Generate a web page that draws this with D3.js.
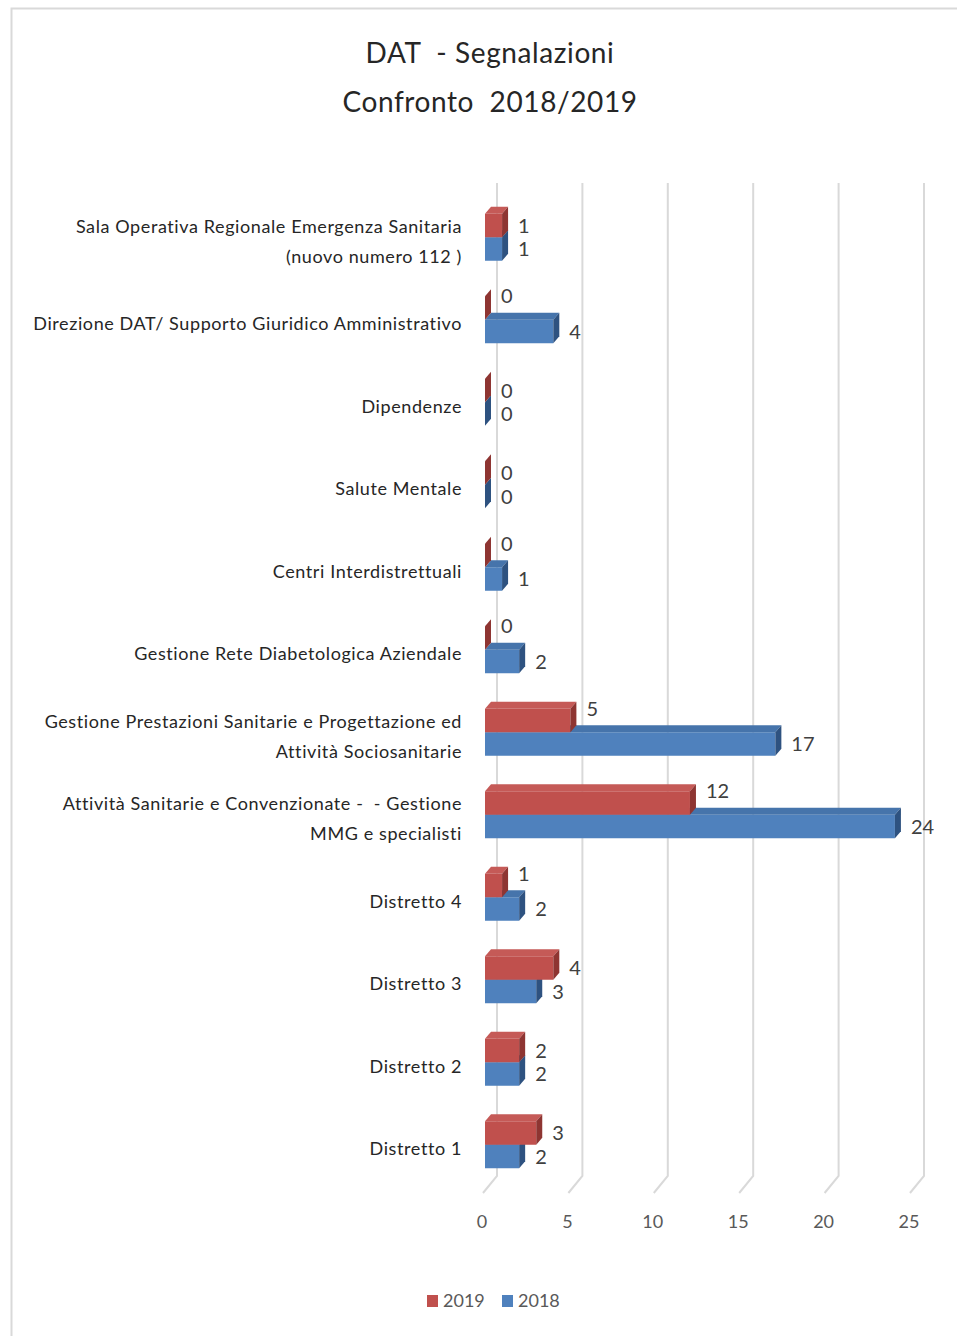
<!DOCTYPE html>
<html>
<head>
<meta charset="utf-8">
<script src="https://cdn.jsdelivr.net/npm/d3@7"></script>
<style>
  html, body { margin: 0; padding: 0; background: #fff; }
  svg { display: block; font-family: Lato, "Open Sans", sans-serif; }
  svg text { white-space: pre; }
</style>
</head>
<body>
<svg id="chart" width="957" height="1336"></svg>
<script>
'use strict';

// categories, top to bottom (each entry = lines of the label)
var categories = [
    ['Sala Operativa Regionale Emergenza Sanitaria', '(nuovo numero 112 )'],
    ['Direzione DAT/ Supporto Giuridico Amministrativo'],
    ['Dipendenze'],
    ['Salute Mentale'],
    ['Centri Interdistrettuali'],
    ['Gestione Rete Diabetologica Aziendale'],
    ['Gestione Prestazioni Sanitarie e Progettazione ed', 'Attività Sociosanitarie'],
    ['Attività Sanitarie e Convenzionate -  - Gestione', 'MMG e specialisti'],
    ['Distretto 4'],
    ['Distretto 3'],
    ['Distretto 2'],
    ['Distretto 1']
];
var values2019 = [1, 0, 0, 0, 0, 0, 5, 12, 1, 4, 2, 3];
var values2018 = [1, 4, 0, 0, 1, 2, 17, 24, 2, 3, 2, 2];
var xTicks = [0, 5, 10, 15, 20, 25];
var titleLines = ['DAT  - Segnalazioni', 'Confronto  2018/2019'];
var legendItems = ['2019', '2018'];

var svg = d3.select('#chart');

var colors = {
    s2019: { front: '#c0504d', top: '#c55a57', side: '#8e3532' },
    s2018: { front: '#4f81bd', top: '#4674ab', side: '#2e5280' }
};

// outer border of the chart area
svg.append('rect')
    .attr('x', 11.5).attr('y', 8.5)
    .attr('width', 1000).attr('height', 1400)
    .attr('fill', 'none')
    .attr('stroke', '#d9d9d9')
    .attr('stroke-width', 2);

// title
svg.append('g').selectAll('text')
    .data(titleLines)
    .enter().append('text')
    .attr('x', 490)
    .attr('y', function (d, i) { return 63 + i * 49; })
    .attr('text-anchor', 'middle')
    .attr('font-size', 28)
    .attr('letter-spacing', 0.6)
    .attr('fill', '#262626')
    .text(function (d) { return d; });

var x = d3.scaleLinear().domain([0, 25]).range([485, 912]);
var y = d3.scaleBand()
    .domain(d3.range(categories.length))
    .range([196, 1186]);

var depth = { dx: 6, dy: -7 },        // bar 3D depth
    wall = { dx: 14, dy: -17 },       // back wall offset
    barH = 23.5,
    wallTop = 183,
    floorY = 1193;

// gridlines: vertical on back wall + diagonal on floor
var grid = svg.append('g').attr('class', 'grid')
    .attr('fill', 'none')
    .attr('stroke', '#d9d9d9')
    .attr('stroke-width', 2);

grid.selectAll('path')
    .data(xTicks)
    .enter().append('path')
    .attr('d', function (d) {
        var fx = x(d) - 2;
        return 'M' + (fx + wall.dx) + ',' + wallTop +
            'L' + (fx + wall.dx) + ',' + (floorY + wall.dy) +
            'L' + fx + ',' + floorY;
    });

// x tick labels
svg.append('g').selectAll('text')
    .data(xTicks)
    .enter().append('text')
    .attr('x', function (d) { return x(d) - 3; })
    .attr('y', 1228)
    .attr('text-anchor', 'middle')
    .attr('font-size', 18)
    .attr('fill', '#595959')
    .text(function (d) { return d; });

// category labels
var catG = svg.append('g').selectAll('g')
    .data(categories)
    .enter().append('g')
    .attr('transform', function (d, i) {
        return 'translate(462,' + (y(i) + y.bandwidth() / 2 + 4) + ')';
    });

catG.selectAll('text')
    .data(function (d) { return d; })
    .enter().append('text')
    .attr('text-anchor', 'end')
    .attr('font-size', 18)
    .attr('letter-spacing', 0.6)
    .attr('fill', '#262626')
    .attr('y', function (d, i, nodes) {
        var n = nodes.length;
        return (i - (n - 1) / 2) * 30;
    })
    .attr('dy', '0.35em')
    .text(function (d) { return d; });

// 3D bar helper
function drawBar(g, v, yTop, c) {
    var x0 = x(0), x1 = x(v), y0 = yTop, y1 = yTop + barH;
    // front face
    if (x1 > x0) {
        g.append('rect')
            .attr('x', x0).attr('y', y0)
            .attr('width', x1 - x0).attr('height', barH)
            .attr('fill', c.front);
        // top face
        g.append('path')
            .attr('d', 'M' + x0 + ',' + y0 + 'L' + (x0 + depth.dx) + ',' + (y0 + depth.dy) +
                'L' + (x1 + depth.dx) + ',' + (y0 + depth.dy) + 'L' + x1 + ',' + y0 + 'Z')
            .attr('fill', c.top);
    }
    // side (end) face
    g.append('path')
        .attr('d', 'M' + x1 + ',' + y0 + 'L' + (x1 + depth.dx) + ',' + (y0 + depth.dy) +
            'L' + (x1 + depth.dx) + ',' + (y1 + depth.dy) + 'L' + x1 + ',' + y1 + 'Z')
        .attr('fill', c.side);
}

var bars = svg.append('g').attr('class', 'bars');

categories.forEach(function (cat, i) {
    var c = y(i) + y.bandwidth() / 2;
    var g = bars.append('g');
    // 2018 below (drawn first), 2019 above
    drawBar(g, values2018[i], c, colors.s2018);
    drawBar(g, values2019[i], c - barH, colors.s2019);
});

// value labels
var labels = svg.append('g')
    .attr('font-size', 20)
    .attr('fill', '#404040');

categories.forEach(function (cat, i) {
    var c = y(i) + y.bandwidth() / 2;
    var shift = values2018[i] > values2019[i] ? -12 : 0;
    labels.append('text')
        .attr('x', x(values2019[i]) + 16)
        .attr('y', c - barH / 2 + shift)
        .attr('dy', '0.35em')
        .text(values2019[i]);
    labels.append('text')
        .attr('x', x(values2018[i]) + 16)
        .attr('y', c + barH / 2)
        .attr('dy', '0.35em')
        .text(values2018[i]);
});

// legend
var legend = svg.append('g').attr('transform', 'translate(427,1301)');
var legendColors = [colors.s2019.front, colors.s2018.front];
var li = legend.selectAll('g')
    .data(legendItems)
    .enter().append('g')
    .attr('transform', function (d, i) { return 'translate(' + (i * 75) + ',0)'; });
li.append('rect')
    .attr('x', 0).attr('y', -6)
    .attr('width', 11).attr('height', 12)
    .attr('fill', function (d, i) { return legendColors[i]; });
li.append('text')
    .attr('x', 16)
    .attr('dy', '0.35em')
    .attr('font-size', 18)
    .attr('fill', '#595959')
    .text(function (d) { return d; });
</script>
</body>
</html>
